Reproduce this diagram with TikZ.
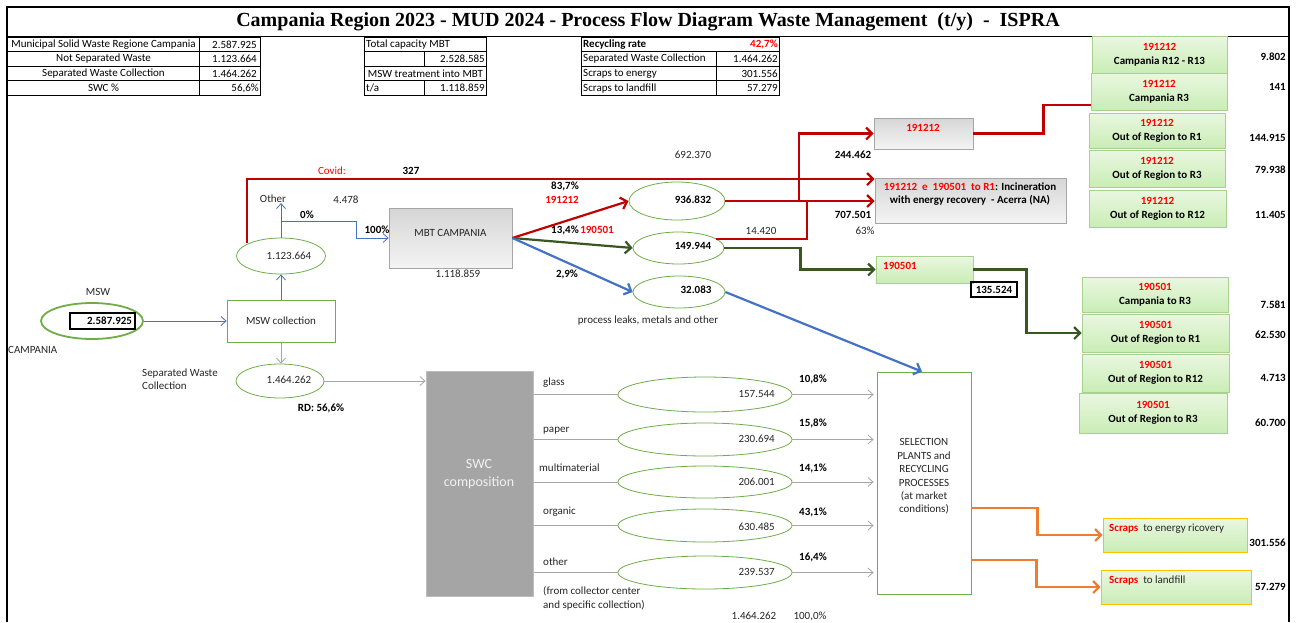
\documentclass[tikz,border=0pt]{standalone}
\usepackage{fontspec}
\setmainfont{Carlito}
\newfontfamily\ttlfont{Liberation Serif}
\usetikzlibrary{shapes.geometric,arrows.meta}
\definecolor{linered}{HTML}{C00000}
\definecolor{txtred}{HTML}{FF0000}
\definecolor{dgreen}{HTML}{385723}
\definecolor{lblue}{HTML}{4472C4}
\definecolor{lgray}{HTML}{A6A6A6}
\definecolor{egreen}{HTML}{70AD47}
\definecolor{gborder}{HTML}{A9D18E}
\definecolor{gtop}{HTML}{EAF7E1}
\definecolor{gbot}{HTML}{C9EDB5}
\definecolor{gytop}{HTML}{D6D6D6}
\definecolor{gybot}{HTML}{F4F4F4}
\definecolor{gybd}{HTML}{A6A6A6}
\definecolor{orng}{HTML}{ED7D31}
\definecolor{ylw}{HTML}{FFC000}
\definecolor{swcfill}{HTML}{A5A5A5}
\definecolor{swcbd}{HTML}{BFBFBF}
\definecolor{swctxt}{HTML}{F2F2F2}
\definecolor{txtc}{HTML}{262626}
\newcommand\fs{\fontsize{11}{14}\selectfont}
\newcommand\rd[1]{\textcolor{txtred}{#1}}
\begin{document}
\begin{tikzpicture}[x=1pt,y=-1pt,
  every node/.style={inner sep=0pt, font=\fs, text=txtc},
  bf/.style={font=\fs\bfseries, text=black},
  rb/.style={font=\fs\bfseries, text=txtred},
  cell/.style={draw=black, line width=1pt, anchor=north west, minimum height=14.6pt, inner sep=0pt},
  ctext/.style={text=black},
  tblue/.style={draw=lblue, line width=0.8pt, -{Straight Barb[length=5pt,width=9pt]}},
  tgray/.style={draw=lgray, line width=0.8pt, -{Straight Barb[length=5pt,width=9pt]}},
  kred/.style={draw=linered, line width=2.2pt, -{Straight Barb[length=6pt,width=12pt]}},
  kredline/.style={draw=linered, line width=2.2pt},
  kgreen/.style={draw=dgreen, line width=2.2pt, -{Straight Barb[length=6pt,width=12pt]}},
  kblue/.style={draw=lblue, line width=2.2pt, -{Straight Barb[length=6pt,width=12pt]}},
  korange/.style={draw=orng, line width=2.2pt, -{Straight Barb[length=6pt,width=12pt]}},
  ell/.style={ellipse, draw=egreen, line width=0.8pt, inner sep=0pt},
  gbox/.style={draw=gborder, line width=0.8pt, top color=gtop, bottom color=gbot, align=center, font=\fontsize{11}{14}\selectfont\bfseries, text=black},
  graybox/.style={draw=gybd, line width=0.8pt, top color=gytop, bottom color=gybot},
  ybox/.style={draw=ylw, line width=0.8pt, top color=gtop, bottom color=gbot},
]
\useasboundingbox (0,0) rectangle (1296,622);
\fill[white] (0,0) rectangle (1296,622);

% frame and title
\draw[line width=1.2pt] (7,622) -- (7,7) -- (1289,7) -- (1289,622);
\draw[line width=1pt] (7,36.5) -- (1289,36.5);
\node[font=\ttlfont\bfseries\fontsize{20}{24}\selectfont, text=black] (title) at (648,22)
  {Campania Region 2023 - MUD 2024 - Process Flow Diagram Waste Management~~(t/y)~~-~~ISPRA};

% table 1
\node[cell, minimum width=192pt] (t11) at (7,36.5) {};
\node[cell, minimum width=61pt] (t12) at (199,36.5) {};
\node[cell, minimum width=192pt] (t21) at (7,51.1) {};
\node[cell, minimum width=61pt] (t22) at (199,51.1) {};
\node[cell, minimum width=192pt] (t31) at (7,65.7) {};
\node[cell, minimum width=61pt] (t32) at (199,65.7) {};
\node[cell, minimum width=192pt] (t41) at (7,80.3) {};
\node[cell, minimum width=61pt] (t42) at (199,80.3) {};
\node[ctext] (t11t) at (t11) {Municipal Solid Waste Regione Campania};
\node[ctext] (t21t) at (t21) {Not Separated Waste};
\node[ctext] (t31t) at (t31) {Separated Waste Collection};
\node[ctext] (t41t) at (t41) {SWC \%};
\node[ctext, anchor=east] (t12t) at ([xshift=-4pt]t12.east) {2.587.925};
\node[ctext, anchor=east] (t22t) at ([xshift=-4pt]t22.east) {1.123.664};
\node[ctext, anchor=east] (t32t) at ([xshift=-4pt]t32.east) {1.464.262};
\node[ctext, anchor=east] (t42t) at ([xshift=-2pt]t42.east) {56,6\%};

% table 2
\node[cell, minimum width=122pt] (u1) at (364,36.5) {};
\node[cell, minimum width=60pt] (u2a) at (364,51.1) {};
\node[cell, minimum width=62pt] (u2b) at (424,51.1) {};
\node[cell, minimum width=122pt] (u3) at (364,65.7) {};
\node[cell, minimum width=60pt] (u4a) at (364,80.3) {};
\node[cell, minimum width=62pt] (u4b) at (424,80.3) {};
\node[ctext, anchor=west] (u1t) at ([xshift=2pt]u1.west) {Total capacity MBT};
\node[ctext, anchor=east] (u2t) at ([xshift=-2pt]u2b.east) {2.528.585};
\node[ctext] (u3t) at (u3) {MSW treatment into MBT};
\node[ctext, anchor=west] (u4at) at ([xshift=2pt]u4a.west) {t/a};
\node[ctext, anchor=east] (u4bt) at ([xshift=-2pt]u4b.east) {1.118.859};

% table 3
\node[cell, minimum width=198pt] (v1) at (581,36.5) {};
\node[cell, minimum width=135pt] (v2a) at (581,51.1) {};
\node[cell, minimum width=63pt] (v2b) at (716,51.1) {};
\node[cell, minimum width=135pt] (v3a) at (581,65.7) {};
\node[cell, minimum width=63pt] (v3b) at (716,65.7) {};
\node[cell, minimum width=135pt] (v4a) at (581,80.3) {};
\node[cell, minimum width=63pt] (v4b) at (716,80.3) {};
\node[bf, anchor=west] (v1t) at ([xshift=2pt]v1.west) {Recycling rate};
\node[rb, anchor=east] (v1r) at ([xshift=-2pt]v1.east) {42,7\%};
\node[ctext, anchor=west] (v2t) at ([xshift=2pt]v2a.west) {Separated Waste Collection};
\node[ctext, anchor=east] (v2r) at ([xshift=-2pt]v2b.east) {1.464.262};
\node[ctext, anchor=west] (v3t) at ([xshift=2pt]v3a.west) {Scraps to energy};
\node[ctext, anchor=east] (v3r) at ([xshift=-2pt]v3b.east) {301.556};
\node[ctext, anchor=west] (v4t) at ([xshift=2pt]v4a.west) {Scraps to landfill};
\node[ctext, anchor=east] (v4r) at ([xshift=-2pt]v4b.east) {57.279};

% left part
\node[ell, line width=1.8pt, minimum width=102pt, minimum height=36pt] (msw) at (92,321) {};
\node[draw=black, line width=1.2pt, minimum width=65pt, minimum height=16pt, text width=59pt, inner xsep=3pt, align=right, font=\fs\bfseries, text=black] (mswv) at (102.5,321) {2.587.925};
\node (lmsw) at (98,292) {MSW};
\node[anchor=west] (lcamp) at (8,350) {CAMPANIA};
\node[draw=egreen, line width=0.8pt, minimum width=108pt, minimum height=42pt] (coll) at (281,321) {MSW collection};
\node[ell, minimum width=89pt, minimum height=36pt] (e1) at (281,256) {};
\node (e1t) at (289,256) {1.123.664};
\node[ell, minimum width=88pt, minimum height=34pt] (e2) at (280,381) {};
\node (e2t) at (289,380) {1.464.262};
\node[bf] (rd) at (321,408) {RD:~56,6\%};
\node[anchor=west, align=left, font=\fontsize{11}{13}\selectfont] (swcl) at (142,379.5) {Separated Waste\\Collection};

\node (oth) at (273,199) {Other};
\node (n4478) at (346,200) {4.478};
\node[bf] (p0) at (307,215) {0\%};
\node[bf] (p100) at (377,230) {100\%};
\node[graybox, minimum width=123pt, minimum height=60pt] (mbt) at (450.5,238) {};
\node (mbtt) at (450.5,233) {MBT CAMPANIA};
\node (n1118) at (458,274) {1.118.859};
\node[text=txtred] (covid) at (332,171) {Covid:};
\node[bf] (n327) at (411,171) {327};

\node[bf] (p837) at (565,186) {83,7\%};
\node[rb] (r1912a) at (562,200) {191212};
\node[bf] (p134) at (565,230) {13,4\%};
\node[rb] (r1905a) at (597,230) {190501};
\node[bf] (p29) at (567,274) {2,9\%};

\node[ell, minimum width=96pt, minimum height=38pt] (e936) at (677,201) {};
\node[bf] (e936t) at (693,200) {936.832};
\node[ell, minimum width=91pt, minimum height=32pt] (e149) at (678.5,248) {};
\node[bf] (e149t) at (693,246) {149.944};
\node[ell, minimum width=92pt, minimum height=32pt] (e32) at (679,292) {};
\node[bf] (e32t) at (696,290) {32.083};
\node (leaks) at (648,321) {process leaks, metals and other};
\node (n692) at (693,155) {692.370};
\node[bf] (n244) at (853,155) {244.462};
\node[bf] (n707) at (853,215) {707.501};
\node (p63) at (865,231) {63\%};
\node (n14420) at (761,231) {14.420};

\node[graybox, minimum width=99pt, minimum height=31pt] (b191) at (923.5,133.5) {};
\node[rb] (b191t) at (923,128) {191212};
\node[graybox, minimum width=191pt, minimum height=45pt] (inc) at (970.5,200.5) {};
\node[align=center, font=\fontsize{11}{13}\selectfont\bfseries, text=black] (inct) at (970,194.5)
  {\rd{191212~~e~~190501~~to R1}: Incineration\\with energy recovery~~- Acerra (NA)};

% 191212 destination boxes
\node[gbox, minimum width=135pt, minimum height=37pt] (g1) at (1159.5,54.5) {\rd{191212}\\Campania R12 - R13};
\node[gbox, minimum width=136pt, minimum height=37pt] (g2) at (1159,91.5) {\rd{191212}\\Campania R3};
\node[gbox, minimum width=136pt, minimum height=35pt] (g3) at (1157,130.5) {\rd{191212}\\Out of Region to R1};
\node[gbox, minimum width=136pt, minimum height=37pt] (g4) at (1157,168.5) {\rd{191212}\\Out of Region to R3};
\node[gbox, minimum width=137pt, minimum height=37pt] (g5) at (1157.5,208.5) {\rd{191212}\\Out of Region to R12};
\node[bf, anchor=east] (gv1) at (1286,57) {9.802};
\node[bf, anchor=east] (gv2) at (1286,87) {141};
\node[bf, anchor=east] (gv3) at (1286,138) {144.915};
\node[bf, anchor=east] (gv4) at (1286,170) {79.938};
\node[bf, anchor=east] (gv5) at (1286,215) {11.405};

% 190501
\node[gbox, minimum width=97pt, minimum height=27pt] (g190) at (924.5,269.5) {};
\node[rb, anchor=west] (g190t) at (883,266) {190501};
\node[draw=black, line width=1.5pt, minimum width=46pt, minimum height=15pt, bf] (n135) at (994,289.5) {135.524};
\node[gbox, minimum width=146pt, minimum height=35pt] (h1) at (1155,294.5) {\rd{190501}\\Campania to R3};
\node[gbox, minimum width=147pt, minimum height=38pt] (h2) at (1155.5,333) {\rd{190501}\\Out of Region to R1};
\node[gbox, minimum width=147pt, minimum height=38pt] (h3) at (1155.5,373) {\rd{190501}\\Out of Region to R12};
\node[gbox, minimum width=148pt, minimum height=40pt] (h4) at (1153,413) {\rd{190501}\\Out of Region to R3};
\node[bf, anchor=east] (hv1) at (1286,305) {7.581};
\node[bf, anchor=east] (hv2) at (1286,335) {62.530};
\node[bf, anchor=east] (hv3) at (1286,378) {4.713};
\node[bf, anchor=east] (hv4) at (1286,423) {60.700};

% SWC part
\node[fill=swcfill, draw=swcbd, line width=1pt, minimum width=107pt, minimum height=225pt] (swc) at (479.5,483.5) {};
\node[align=center, font=\fontsize{14}{18}\selectfont, text=swctxt] (swct) at (479,474) {SWC\\composition};
\node[draw=egreen, line width=0.8pt, minimum width=94pt, minimum height=222pt] (sel) at (924,483) {};
\node[align=center, font=\fontsize{11}{13.4}\selectfont] (selt) at (924,476.5) {SELECTION\\PLANTS and\\RECYCLING\\PROCESSES\\(at market\\conditions)};

\node[ell, minimum width=174pt, minimum height=35pt] (c1) at (705,394.5) {};
\node[ell, minimum width=174pt, minimum height=33pt] (c2) at (705,439.5) {};
\node[ell, minimum width=174pt, minimum height=32pt] (c3) at (705,482) {};
\node[ell, minimum width=174pt, minimum height=33pt] (c4) at (705,525.5) {};
\node[ell, minimum width=174pt, minimum height=33pt] (c5) at (705,572.5) {};
\node[anchor=east] (c1t) at (775,394) {157.544};
\node[anchor=east] (c2t) at (775,439) {230.694};
\node[anchor=east] (c3t) at (775,482) {206.001};
\node[anchor=east] (c4t) at (775,527) {630.485};
\node[anchor=east] (c5t) at (775,572) {239.537};
\node[anchor=west] (l1) at (543,383) {glass};
\node[anchor=west] (l2) at (543,431) {paper};
\node[anchor=west] (l3) at (539,468) {multimaterial};
\node[anchor=west] (l4) at (543,512) {organic};
\node[anchor=west] (l5) at (543,562) {other};
\node[anchor=west, align=left, font=\fontsize{11}{14}\selectfont] (l6) at (543,598) {(from collector center\\and specific collection)};
\node[bf] (q1) at (813,379) {10,8\%};
\node[bf] (q2) at (813,423) {15,8\%};
\node[bf] (q3) at (813,468) {14,1\%};
\node[bf] (q4) at (813,512) {43,1\%};
\node[bf] (q5) at (813,557) {16,4\%};
\node (tot1) at (754,616) {1.464.262};
\node (tot2) at (810,616) {100,0\%};

\node[ybox, minimum width=144pt, minimum height=34pt] (sc1) at (1175,535) {};
\node[ybox, minimum width=150pt, minimum height=34pt] (sc2) at (1176,587) {};
\node[anchor=west] (sc1t) at (1109,529) {\textcolor{txtred}{\bfseries Scraps}~~to energy ricovery};
\node[anchor=west] (sc2t) at (1109,581) {\textcolor{txtred}{\bfseries Scraps}~~to landfill};
\node[bf, anchor=east] (scv1) at (1286,543) {301.556};
\node[bf, anchor=east] (scv2) at (1286,587) {57.279};

% connectors
\coordinate (cv) at (247,243);
\coordinate (b0) at (281,221);
\coordinate (jr) at (799,201);
\coordinate (jr2) at (807,201);
\draw[tblue] (msw.east) -- (coll.west);
\draw[tblue] (coll.north) -- (coll.north |- e1.south);
\draw[tblue] (e1.north) -- (e1.north |- oth.south);
\draw[tblue] (b0) -- (356,221) |- (mbt.west);
\draw[tgray] (coll.south) -- (coll.south |- e2.north);
\draw[tgray] (e2.east) -- (e2.east -| swc.west);
\draw[kred] (cv) |- ([yshift=-1.5pt]inc.north west);
\draw[kred] (mbt.east) -- (e936.west);
\draw[kgreen] (mbt.east) -- (e149.west);
\draw[kblue] (mbt.east) -- (e32.west);
\draw[kred] (e936.east) -- (e936.east -| inc.west);
\draw[kred] (jr) |- (b191.west);
\draw[kredline] (e149.14) -| (jr2);
\draw[kredline] (b191.east) -- ++(70,0) |- ([yshift=-13.5pt]g2.west);
\draw[kgreen] (e149.east) -- ++(76,0) |- (g190.west);
\draw[kgreen] (g190.east) -- ++(53,0) |- (h2.west);
\draw[kblue] (e32.east) -- ([xshift=-2pt]sel.north);
\foreach \c in {c1,c2,c3,c4,c5}{
  \draw[lgray, line width=0.8pt] (swc.east |- \c.west) -- (\c.west);
  \draw[tgray, shorten >=3pt] (\c.east) -- (\c.east -| sel.west);
}
\draw[korange] ([yshift=-25pt]sel.east) -- ++(66,0) |- (sc1.west);
\draw[korange] ([yshift=-77pt]sel.east) -- ++(65,0) |- (sc2.west);
\end{tikzpicture}
\end{document}
